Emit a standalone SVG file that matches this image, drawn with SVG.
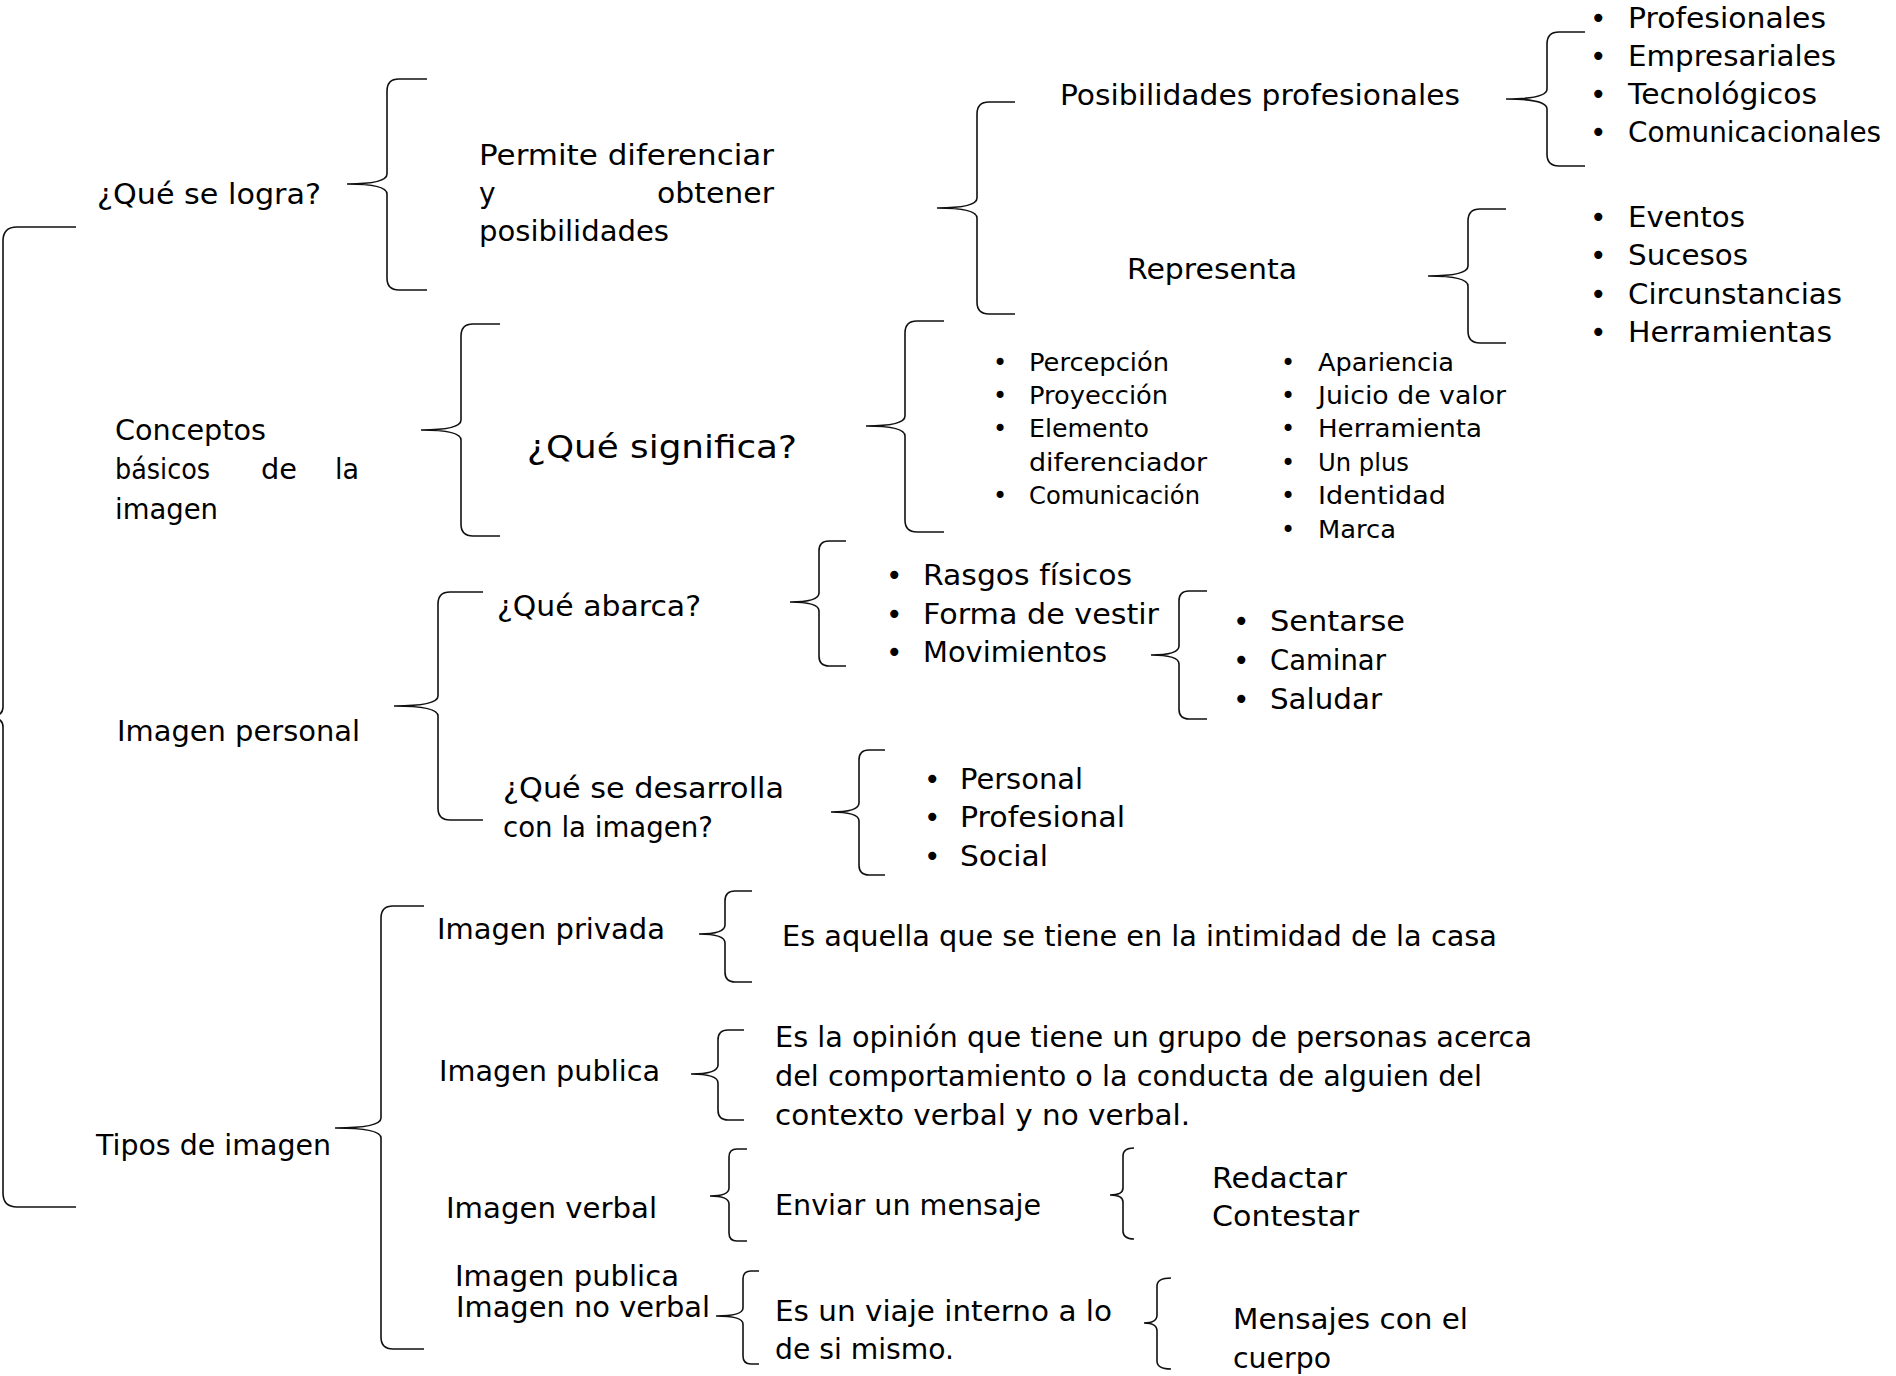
<svg xmlns="http://www.w3.org/2000/svg" width="1896" height="1376" viewBox="0 0 1896 1376">
<style>
text{font-family:"DejaVu Sans","Liberation Sans",sans-serif;font-size:28px;fill:#000}
.s{font-size:24px}
.b{font-size:32px}
.br{fill:none;stroke:#111;stroke-width:1.6}
</style>
<rect width="1896" height="1376" fill="#fff"/>
<g id="connectors">
<path class="br" d="M76,227 L17,227 Q3,227 3,241 L3,707 Q3,717 -12,717 Q3,717 3,727 L3,1193 Q3,1207 17,1207 L76,1207"/>
<path class="br" d="M427,79 L399,79 Q387,79 387,91 L387,174 Q387,184 347,184 Q387,184 387,194 L387,278 Q387,290 399,290 L427,290"/>
<path class="br" d="M1015,102 L989,102 Q977,102 977,114 L977,198 Q977,208 937,208 Q977,208 977,218 L977,302 Q977,314 989,314 L1015,314"/>
<path class="br" d="M1585,32 L1559,32 Q1547,32 1547,44 L1547,89 Q1547,99 1506,99 Q1547,99 1547,109 L1547,154 Q1547,166 1559,166 L1585,166"/>
<path class="br" d="M1506,209 L1480,209 Q1468,209 1468,221 L1468,266 Q1468,276 1428,276 Q1468,276 1468,286 L1468,331 Q1468,343 1480,343 L1506,343"/>
<path class="br" d="M500,324 L473,324 Q461,324 461,336 L461,420 Q461,430 421,430 Q461,430 461,440 L461,524 Q461,536 473,536 L500,536"/>
<path class="br" d="M944,321 L917,321 Q905,321 905,333 L905,416 Q905,426 866,426 Q905,426 905,436 L905,520 Q905,532 917,532 L944,532"/>
<path class="br" d="M483,592 L450,592 Q438,592 438,604 L438,696 Q438,706 394,706 Q438,706 438,716 L438,808 Q438,820 450,820 L483,820"/>
<path class="br" d="M846,541 L829,541 Q819,541 819,551 L819,593 Q819,602 790,602 Q819,602 819,611 L819,656 Q819,666 829,666 L846,666"/>
<path class="br" d="M1207,591 L1189,591 Q1179,591 1179,601 L1179,646 Q1179,655 1151,655 Q1179,655 1179,664 L1179,709 Q1179,719 1189,719 L1207,719"/>
<path class="br" d="M885,750 L869,750 Q859,750 859,760 L859,803 Q859,812 831,812 Q859,812 859,821 L859,865 Q859,875 869,875 L885,875"/>
<path class="br" d="M424,906 L393,906 Q381,906 381,918 L381,1118 Q381,1128 335,1128 Q381,1128 381,1138 L381,1337 Q381,1349 393,1349 L424,1349"/>
<path class="br" d="M752,891 L735,891 Q725,891 725,901 L725,925 Q725,934 699,934 Q725,934 725,943 L725,972 Q725,982 735,982 L752,982"/>
<path class="br" d="M744,1030 L728,1030 Q718,1030 718,1040 L718,1065 Q718,1074 691,1074 Q718,1074 718,1083 L718,1110 Q718,1120 728,1120 L744,1120"/>
<path class="br" d="M747,1149 L737,1149 Q729,1149 729,1157 L729,1188 Q729,1196 710,1196 Q729,1196 729,1204 L729,1233 Q729,1241 737,1241 L747,1241"/>
<path class="br" d="M1134,1148 Q1123,1148 1123,1156 L1123,1188 Q1123,1195 1110,1195 Q1123,1195 1123,1202 L1123,1231 Q1123,1239 1134,1239"/>
<path class="br" d="M759,1271 L751,1271 Q743,1271 743,1279 L743,1308 Q743,1316 716,1316 Q743,1316 743,1324 L743,1356 Q743,1364 751,1364 L759,1364"/>
<path class="br" d="M1171,1278 Q1157,1278 1157,1286 L1157,1315 Q1157,1323 1144,1323 Q1157,1323 1157,1331 L1157,1361 Q1157,1369 1171,1369"/>
</g>
<g id="n-que-se-logra"><text x="97" y="204" textLength="224" lengthAdjust="spacingAndGlyphs">¿Qué se logra?</text></g>
<g id="n-permite">
<text x="479" y="165" textLength="295" lengthAdjust="spacingAndGlyphs">Permite diferenciar</text>
<text x="479" y="203">y</text>
<text x="657" y="203" textLength="117" lengthAdjust="spacingAndGlyphs">obtener</text>
<text x="479" y="241" textLength="190" lengthAdjust="spacingAndGlyphs">posibilidades</text>
</g>
<g id="n-posibilidades"><text x="1060" y="105" textLength="400" lengthAdjust="spacingAndGlyphs">Posibilidades profesionales</text></g>
<g id="n-posib-list">
<text x="1590" y="28">•</text><text x="1628" y="28" textLength="198" lengthAdjust="spacingAndGlyphs">Profesionales</text>
<text x="1590" y="66">•</text><text x="1628" y="66" textLength="208" lengthAdjust="spacingAndGlyphs">Empresariales</text>
<text x="1590" y="104">•</text><text x="1628" y="104" textLength="189" lengthAdjust="spacingAndGlyphs">Tecnológicos</text>
<text x="1590" y="142">•</text><text x="1628" y="142" textLength="253" lengthAdjust="spacingAndGlyphs">Comunicacionales</text>
</g>
<g id="n-representa"><text x="1127" y="279" textLength="170" lengthAdjust="spacingAndGlyphs">Representa</text></g>
<g id="n-representa-list">
<text x="1590" y="227">•</text><text x="1628" y="227" textLength="117" lengthAdjust="spacingAndGlyphs">Eventos</text>
<text x="1590" y="265">•</text><text x="1628" y="265" textLength="120" lengthAdjust="spacingAndGlyphs">Sucesos</text>
<text x="1590" y="304">•</text><text x="1628" y="304" textLength="214" lengthAdjust="spacingAndGlyphs">Circunstancias</text>
<text x="1590" y="342">•</text><text x="1628" y="342" textLength="204" lengthAdjust="spacingAndGlyphs">Herramientas</text>
</g>
<g id="n-conceptos">
<text x="115" y="440" textLength="151" lengthAdjust="spacingAndGlyphs">Conceptos</text>
<text x="115" y="479" textLength="95" lengthAdjust="spacingAndGlyphs">básicos</text>
<text x="261" y="479" textLength="36" lengthAdjust="spacingAndGlyphs">de</text>
<text x="335" y="479" textLength="24" lengthAdjust="spacingAndGlyphs">la</text>
<text x="115" y="519" textLength="103" lengthAdjust="spacingAndGlyphs">imagen</text>
</g>
<g id="n-significa"><text class="b" x="527" y="458" textLength="270" lengthAdjust="spacingAndGlyphs">¿Qué significa?</text></g>
<g id="n-significa-list">
<text class="s" x="993" y="371">•</text><text class="s" x="1029" y="371" textLength="140" lengthAdjust="spacingAndGlyphs">Percepción</text>
<text class="s" x="993" y="404">•</text><text class="s" x="1029" y="404" textLength="139" lengthAdjust="spacingAndGlyphs">Proyección</text>
<text class="s" x="993" y="437">•</text><text class="s" x="1029" y="437" textLength="120" lengthAdjust="spacingAndGlyphs">Elemento</text>
<text class="s" x="1029" y="471" textLength="178" lengthAdjust="spacingAndGlyphs">diferenciador</text>
<text class="s" x="993" y="504">•</text><text class="s" x="1029" y="504" textLength="171" lengthAdjust="spacingAndGlyphs">Comunicación</text>
<text class="s" x="1281" y="371">•</text><text class="s" x="1318" y="371" textLength="136" lengthAdjust="spacingAndGlyphs">Apariencia</text>
<text class="s" x="1281" y="404">•</text><text class="s" x="1318" y="404" textLength="188" lengthAdjust="spacingAndGlyphs">Juicio de valor</text>
<text class="s" x="1281" y="437">•</text><text class="s" x="1318" y="437" textLength="164" lengthAdjust="spacingAndGlyphs">Herramienta</text>
<text class="s" x="1281" y="471">•</text><text class="s" x="1318" y="471" textLength="91" lengthAdjust="spacingAndGlyphs">Un plus</text>
<text class="s" x="1281" y="504">•</text><text class="s" x="1318" y="504" textLength="128" lengthAdjust="spacingAndGlyphs">Identidad</text>
<text class="s" x="1281" y="538">•</text><text class="s" x="1318" y="538" textLength="78" lengthAdjust="spacingAndGlyphs">Marca</text>
</g>
<g id="n-imagen-personal"><text x="117" y="741" textLength="243" lengthAdjust="spacingAndGlyphs">Imagen personal</text></g>
<g id="n-abarca"><text x="497" y="616" textLength="204" lengthAdjust="spacingAndGlyphs">¿Qué abarca?</text></g>
<g id="n-abarca-list">
<text x="886" y="585">•</text><text x="923" y="585" textLength="209" lengthAdjust="spacingAndGlyphs">Rasgos físicos</text>
<text x="886" y="624">•</text><text x="923" y="624" textLength="236" lengthAdjust="spacingAndGlyphs">Forma de vestir</text>
<text x="886" y="662">•</text><text x="923" y="662" textLength="184" lengthAdjust="spacingAndGlyphs">Movimientos</text>
</g>
<g id="n-movimientos-list">
<text x="1233" y="631">•</text><text x="1270" y="631" textLength="135" lengthAdjust="spacingAndGlyphs">Sentarse</text>
<text x="1233" y="670">•</text><text x="1270" y="670" textLength="116" lengthAdjust="spacingAndGlyphs">Caminar</text>
<text x="1233" y="709">•</text><text x="1270" y="709" textLength="112" lengthAdjust="spacingAndGlyphs">Saludar</text>
</g>
<g id="n-desarrolla">
<text x="503" y="798" textLength="281" lengthAdjust="spacingAndGlyphs">¿Qué se desarrolla</text>
<text x="503" y="837" textLength="210" lengthAdjust="spacingAndGlyphs">con la imagen?</text>
</g>
<g id="n-desarrolla-list">
<text x="924" y="789">•</text><text x="960" y="789" textLength="123" lengthAdjust="spacingAndGlyphs">Personal</text>
<text x="924" y="827">•</text><text x="960" y="827" textLength="165" lengthAdjust="spacingAndGlyphs">Profesional</text>
<text x="924" y="866">•</text><text x="960" y="866" textLength="88" lengthAdjust="spacingAndGlyphs">Social</text>
</g>
<g id="n-tipos"><text x="96" y="1155" textLength="235" lengthAdjust="spacingAndGlyphs">Tipos de imagen</text></g>
<g id="n-privada"><text x="437" y="939" textLength="228" lengthAdjust="spacingAndGlyphs">Imagen privada</text></g>
<g id="n-privada-def"><text x="782" y="946" textLength="715" lengthAdjust="spacingAndGlyphs">Es aquella que se tiene en la intimidad de la casa</text></g>
<g id="n-publica"><text x="439" y="1081" textLength="221" lengthAdjust="spacingAndGlyphs">Imagen publica</text></g>
<g id="n-publica-def">
<text x="775" y="1047" textLength="757" lengthAdjust="spacingAndGlyphs">Es la opinión que tiene un grupo de personas acerca</text>
<text x="775" y="1086" textLength="707" lengthAdjust="spacingAndGlyphs">del comportamiento o la conducta de alguien del</text>
<text x="775" y="1125" textLength="415" lengthAdjust="spacingAndGlyphs">contexto verbal y no verbal.</text>
</g>
<g id="n-verbal"><text x="446" y="1218" textLength="211" lengthAdjust="spacingAndGlyphs">Imagen verbal</text></g>
<g id="n-verbal-def"><text x="775" y="1215" textLength="266" lengthAdjust="spacingAndGlyphs">Enviar un mensaje</text></g>
<g id="n-verbal-list">
<text x="1212" y="1188" textLength="135" lengthAdjust="spacingAndGlyphs">Redactar</text>
<text x="1212" y="1226" textLength="147" lengthAdjust="spacingAndGlyphs">Contestar</text>
</g>
<g id="n-no-verbal">
<text x="455" y="1286" textLength="224" lengthAdjust="spacingAndGlyphs">Imagen publica</text>
<text x="456" y="1317" textLength="254" lengthAdjust="spacingAndGlyphs">Imagen no verbal</text>
</g>
<g id="n-no-verbal-def">
<text x="775" y="1321" textLength="337" lengthAdjust="spacingAndGlyphs">Es un viaje interno a lo</text>
<text x="775" y="1359" textLength="179" lengthAdjust="spacingAndGlyphs">de si mismo.</text>
</g>
<g id="n-no-verbal-list">
<text x="1233" y="1329" textLength="235" lengthAdjust="spacingAndGlyphs">Mensajes con el</text>
<text x="1233" y="1368" textLength="98" lengthAdjust="spacingAndGlyphs">cuerpo</text>
</g>
</svg>
